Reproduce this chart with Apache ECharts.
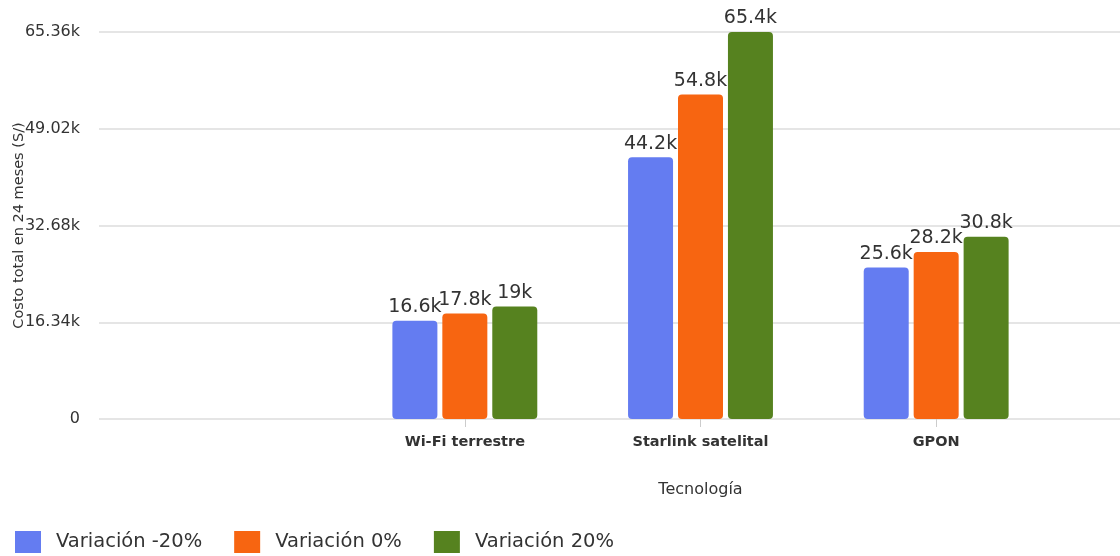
<!DOCTYPE html>
<html><head><meta charset="utf-8">
<script src="https://cdn.jsdelivr.net/npm/echarts@6/dist/echarts.min.js"></script>
<style>html,body{margin:0;padding:0;background:#fff}#c{width:1120px;height:556px}</style>
</head><body><div id="c"></div>
<script>
const categories = ['Wi-Fi terrestre', 'Starlink satelital', 'GPON'];
const seriesNames = ['Variación -20%', 'Variación 0%', 'Variación 20%'];
const varMinus20 = [16600, 44200, 25600];
const var0 = [17800, 54800, 28200];
const var20 = [19000, 65360, 30800];
const yTicks = [0, 16340, 32680, 49020, 65360];
const colors = ['#647CF1', '#F76511', '#56821F'];

const yMax = yTicks[yTicks.length - 1];
const yInterval = yTicks[1] - yTicks[0];
const FONT = 'DejaVu Sans';

function fmtTick(v) { return v === 0 ? '0' : (v / 1000).toFixed(2) + 'k'; }
function fmtLabel(p) {
  let s = (p.value / 1000).toFixed(1);
  if (s.endsWith('.0')) s = s.slice(0, -2);
  return s + 'k';
}

const chart = echarts.init(document.getElementById('c'));
const allData = [varMinus20, var0, var20];
chart.setOption({
  animation: false,
  textStyle: { fontFamily: FONT },
  grid: [
    { left: 99, right: 0, top: 32, height: 387, containLabel: false, outerBoundsMode: 'none' },
    { left: 347, right: 66, top: 32, height: 387, containLabel: false, outerBoundsMode: 'none' }
  ],
  legend: {
    left: 10, top: 526, itemWidth: 26, itemHeight: 22, itemGap: 32,
    icon: 'rect',
    textStyle: { fontSize: 19.5, color: '#333', fontFamily: FONT, padding: [0, 0, 0, 10] },
    data: seriesNames
  },
  xAxis: [
    { type: 'value', gridIndex: 0, show: false, min: 0, max: 1 },
    {
      type: 'category', gridIndex: 1, data: categories,
      name: 'Tecnología', nameLocation: 'middle', nameGap: 63,
      nameTextStyle: { fontSize: 16, color: '#333', fontFamily: FONT },
      axisLine: { show: false },
      axisTick: { show: true, alignWithLabel: true, length: 8, lineStyle: { color: '#ccc' } },
      axisLabel: { fontSize: 14.5, fontWeight: 'bold', color: '#333', margin: 16, fontFamily: FONT }
    }
  ],
  yAxis: [
    {
      type: 'value', gridIndex: 0, min: 0, max: yMax, interval: yInterval,
      name: 'Costo total en 24 meses (S/)', nameLocation: 'middle', nameGap: 72,
      nameMoveOverlap: false,
      nameTextStyle: { fontSize: 14.5, color: '#333', fontFamily: FONT },
      axisLine: { show: false }, axisTick: { show: false },
      axisLabel: { formatter: fmtTick, fontSize: 16, color: '#333', margin: 19, fontFamily: FONT },
      splitLine: { lineStyle: { color: '#ddd', width: 1.5 } }
    },
    {
      type: 'value', gridIndex: 1, min: 0, max: yMax, interval: yInterval, show: false,
      splitLine: { show: false }
    }
  ],
  series: seriesNames.map((n, i) => ({
    name: n, type: 'bar', xAxisIndex: 1, yAxisIndex: 1,
    data: allData[i], barWidth: 45, barGap: '11%',
    itemStyle: { color: colors[i], borderRadius: 4 },
    label: { show: true, position: 'top', distance: 4, formatter: fmtLabel,
      fontSize: 19, color: '#333', fontFamily: FONT }
  }))
});
</script></body></html>
